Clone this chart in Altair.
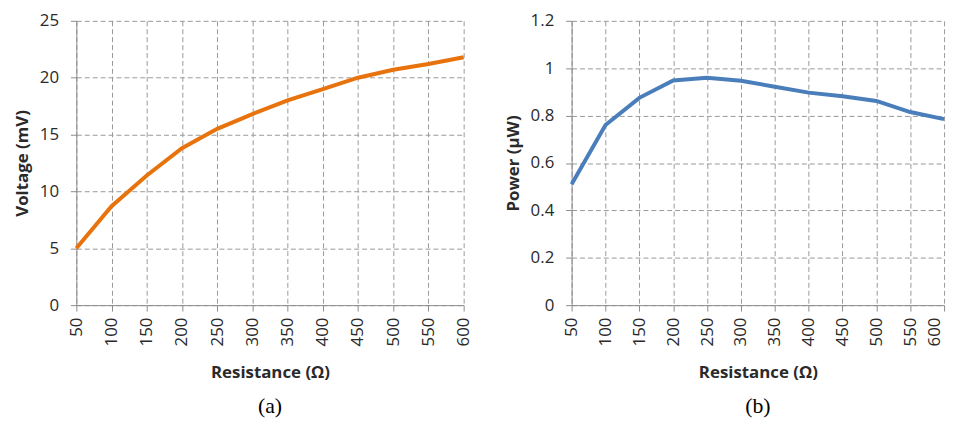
import altair as alt
import pandas as pd

resistance = [50, 100, 150, 200, 250, 300, 350, 400, 450, 500, 550, 600]
voltage_mv = [5.0, 8.7, 11.4, 13.8, 15.5, 16.8, 18.0, 19.0, 20.0, 20.7, 21.2, 21.8]
power_uw = [0.51, 0.76, 0.875, 0.948, 0.96, 0.947, 0.922, 0.897, 0.882, 0.862, 0.815, 0.785]

x_ticks = resistance
v_ticks = [0, 5, 10, 15, 20, 25]
p_ticks = [0, 0.2, 0.4, 0.6, 0.8, 1, 1.2]

df = pd.DataFrame({"R": resistance, "V": voltage_mv, "P": power_uw})

FONT = "Open Sans"
GRID = "#999999"
AXIS = "#8c8c8c"
TXT = "#2a2a2a"

def x_axis(last_shift=0):
    kw = {}
    if last_shift:
        kw["labelOffset"] = {"condition": {"test": "datum.value == 600", "value": last_shift}, "value": 0}
    return alt.Axis(
        values=x_ticks, labelAngle=270, title="Resistance (Ω)", grid=True,
        gridDash=[5, 3], gridColor=GRID, gridOpacity=1, domainColor=AXIS,
        tickColor=AXIS, tickSize=6, labelPadding=6, labelFontSize=17,
        labelFont=FONT, labelColor=TXT, titleFont=FONT, titleFontSize=17,
        titleFontWeight="bold", titlePadding=19, titleColor=TXT,
        labelBaseline="middle", labelAlign="right", **kw,
    )

def y_axis(vals, title):
    return alt.Axis(
        values=vals, title=title, grid=True, gridDash=[5, 3], gridColor=GRID,
        gridOpacity=1, domainColor=AXIS, tickColor=AXIS, tickSize=6,
        labelPadding=12, labelFontSize=17, labelFont=FONT, labelColor=TXT,
        titleFont=FONT, titleFontSize=17, titleFontWeight="bold",
        titlePadding=8, titleColor=TXT, format="~g",
    )

xscale = alt.Scale(domain=[50, 600], nice=False, zero=False)

left = alt.Chart(df).mark_line(color="#E8720C", strokeWidth=4).encode(
    x=alt.X("R:Q", scale=xscale, axis=x_axis()),
    y=alt.Y("V:Q", scale=alt.Scale(domain=[0, 25], nice=False), axis=y_axis(v_ticks, "Voltage (mV)")),
).properties(
    width=391, height=287,
    title=alt.TitleParams("(a)", orient="bottom", font="Liberation Serif", fontSize=22,
                          fontWeight="normal", color="#000", offset=16, anchor="middle"),
)

right = alt.Chart(df).mark_line(color="#4A7EBB", strokeWidth=4).encode(
    x=alt.X("R:Q", scale=xscale, axis=x_axis(-10)),
    y=alt.Y("P:Q", scale=alt.Scale(domain=[0, 1.2], nice=False), axis=y_axis(p_ticks, "Power (µW)")),
).properties(
    width=376, height=287,
    title=alt.TitleParams("(b)", orient="bottom", font="Liberation Serif", fontSize=22,
                          fontWeight="normal", color="#000", offset=16, anchor="middle"),
)

chart = alt.hconcat(left, right, spacing=33).configure_view(stroke=None).properties(
    padding={"left": 5, "top": 2, "right": 0, "bottom": 0},
    background="white",
)

chart.save("out.html", embed_options={"renderer": "svg", "actions": False})
